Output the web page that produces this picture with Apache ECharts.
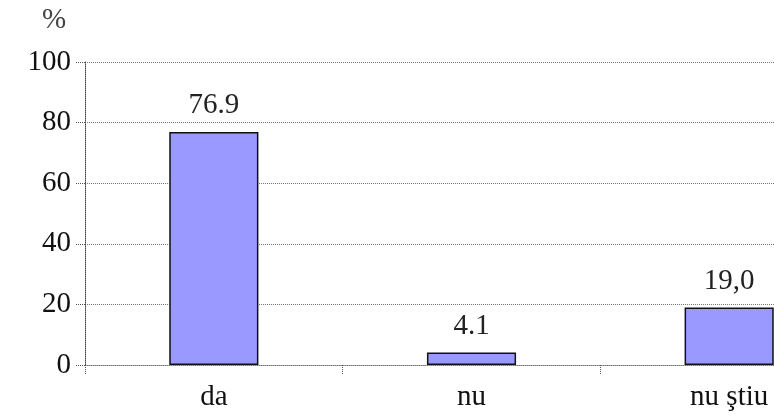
<!DOCTYPE html>
<html><head><meta charset="utf-8">
<script src="https://cdn.jsdelivr.net/npm/echarts@6/dist/echarts.min.js"></script>
<style>html,body{margin:0;padding:0;background:#fff;overflow:hidden;width:774px;height:416px}#c{width:858px;height:416px}</style>
</head><body><div id="c"></div>
<script>
var categories = ['da', 'nu', 'nu ştiu'];
var values = [76.9, 4.1, 19.0];
var valueLabels = ['76.9', '4.1', '19,0'];
var yTicks = [0, 20, 40, 60, 80, 100];

var chart = echarts.init(document.getElementById('c'), null, {renderer: 'canvas'});
var font = 'Liberation Serif';
chart.setOption({
  animation: false,
  backgroundColor: '#fff',
  grid: {left: 85, right: 0, top: 62, bottom: 51, containLabel: false},
  graphic: [{type: 'text', left: 42, top: 6, style: {text: '%', font: 'normal 29px "Liberation Serif"', fill: '#444'}}],
  xAxis: {
    type: 'category', data: categories,
    axisLine: {show: true, onZero: true, lineStyle: {color: '#777', type: 'dotted', width: 1}},
    axisTick: {show: true, alignWithLabel: false, length: 9, lineStyle: {color: '#555', type: 'dotted'}},
    axisLabel: {fontFamily: font, fontSize: 29, color: '#111', margin: 18}
  },
  yAxis: {
    type: 'value', min: yTicks[0], max: yTicks[yTicks.length - 1], interval: 20,
    axisLine: {show: true, lineStyle: {color: '#444', type: 'dotted', width: 1}},
    axisTick: {show: true, length: 9, lineStyle: {color: '#555', type: 'dotted'}},
    splitLine: {show: true, lineStyle: {color: '#777', type: 'dotted', width: 1}},
    axisLabel: {fontFamily: font, fontSize: 29, color: '#111', margin: 14}
  },
  series: [{
    type: 'bar', data: values, barWidth: '34.6%',
    itemStyle: {color: '#9999FF', borderColor: '#111', borderWidth: 1.5},
    label: {show: true, position: 'top', distance: 12, fontFamily: font, fontSize: 29, color: '#222',
      formatter: function (p) { return valueLabels[p.dataIndex]; }}
  }]
});
</script></body></html>
